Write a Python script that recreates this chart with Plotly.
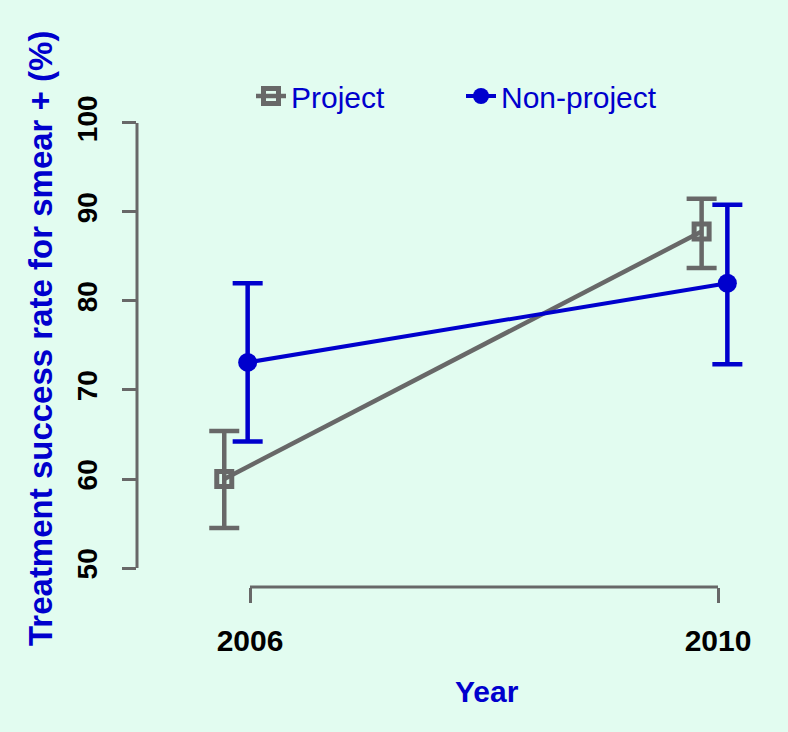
import plotly.graph_objects as go

# ---- data ----
years = [2006, 2010]
year_labels = ["2006", "2010"]
# small horizontal dodge of each series as drawn in the original
project_x = [2005.78, 2009.86]
nonproject_x = [2005.98, 2010.08]

project_mean = [60.0, 87.8]
project_low = [54.5, 83.7]
project_high = [65.4, 91.5]

nonproject_mean = [73.1, 82.0]
nonproject_low = [64.2, 72.9]
nonproject_high = [82.0, 90.8]

y_ticks = [50, 60, 70, 80, 90, 100]

# ---- style ----
BG = "#e2fcf0"
GRAY = "#686868"
BLUE = "#0000CD"
FONT = "Liberation Sans"

W, H = 788, 732
ML, MR, MT, MB = 137, 28, 80, 145

fig = go.Figure()

fig.add_trace(go.Scatter(
    x=project_x, y=project_mean, name="Project",
    mode="lines+markers",
    line=dict(color=GRAY, width=4.5),
    marker=dict(symbol="square-open", size=15, color=GRAY, line=dict(width=5, color=GRAY)),
    error_y=dict(type="data", symmetric=False,
                 array=[h - m for h, m in zip(project_high, project_mean)],
                 arrayminus=[m - l for m, l in zip(project_mean, project_low)],
                 color=GRAY, thickness=4.5, width=15),
))

fig.add_trace(go.Scatter(
    x=nonproject_x, y=nonproject_mean, name="Non-project",
    mode="lines+markers",
    line=dict(color=BLUE, width=4),
    marker=dict(symbol="circle", size=19, color=BLUE, line=dict(width=0)),
    error_y=dict(type="data", symmetric=False,
                 array=[h - m for h, m in zip(nonproject_high, nonproject_mean)],
                 arrayminus=[m - l for m, l in zip(nonproject_mean, nonproject_low)],
                 color=BLUE, thickness=4.5, width=15),
))

plot_w = W - ML - MR
plot_h = H - MT - MB

def px_x(p):
    return (p - ML) / plot_w

def px_y(p):
    return (H - MB - p) / plot_h

fig.update_layout(
    width=W, height=H,
    margin=dict(l=ML, r=MR, t=MT, b=MB, pad=0),
    paper_bgcolor=BG, plot_bgcolor=BG,
    font=dict(family=FONT, color="black"),
    showlegend=True,
    legend=dict(orientation="h", x=px_x(251), xanchor="left", y=px_y(96), yanchor="middle",
                bgcolor="rgba(0,0,0,0)", font=dict(size=30, color=BLUE, family=FONT),
                entrywidth=165, entrywidthmode="pixels", itemsizing="trace"),
    xaxis=dict(range=[2005.0342, 2010.359], tickvals=years, ticktext=year_labels,
               ticks="outside", ticklen=15, tickwidth=3, tickcolor=GRAY,
               showline=False, showgrid=False, zeroline=False,
               tickfont=dict(size=30, color="black", family=FONT, weight="bold"),
               ticklabelstandoff=12),
    yaxis=dict(range=[47.865, 104.83], tickvals=y_ticks, ticktext=[str(v) for v in y_ticks],
               ticks="outside", ticklen=14, tickwidth=3, tickcolor=GRAY, tickangle=-90,
               showline=False, showgrid=False, zeroline=False,
               tickfont=dict(size=28, color="black", family=FONT, weight="bold"),
               ticklabelstandoff=14),
    shapes=[
        dict(type="line", xref="paper", x0=0, x1=0, yref="y", y0=y_ticks[0], y1=y_ticks[-1],
             line=dict(color=GRAY, width=3)),
        dict(type="line", xref="x", x0=years[0], x1=years[-1], yref="paper", y0=0, y1=0,
             line=dict(color=GRAY, width=3)),
    ],
    annotations=[
        dict(text="Treatment success rate for smear + (%)", xref="paper", yref="paper",
             x=px_x(40), y=px_y(339), xanchor="center", yanchor="middle", textangle=-90,
             showarrow=False, font=dict(size=33, color=BLUE, family=FONT, weight="bold")),
        dict(text="Year", xref="paper", yref="paper",
             x=px_x(487), y=px_y(691), xanchor="center", yanchor="middle",
             showarrow=False, font=dict(size=30, color=BLUE, family=FONT, weight="bold")),
    ],
)

fig.write_html("out.html",
               config={"displayModeBar": False},
               post_script="document.body.style.margin='0px';document.body.style.background='" + BG + "';")
